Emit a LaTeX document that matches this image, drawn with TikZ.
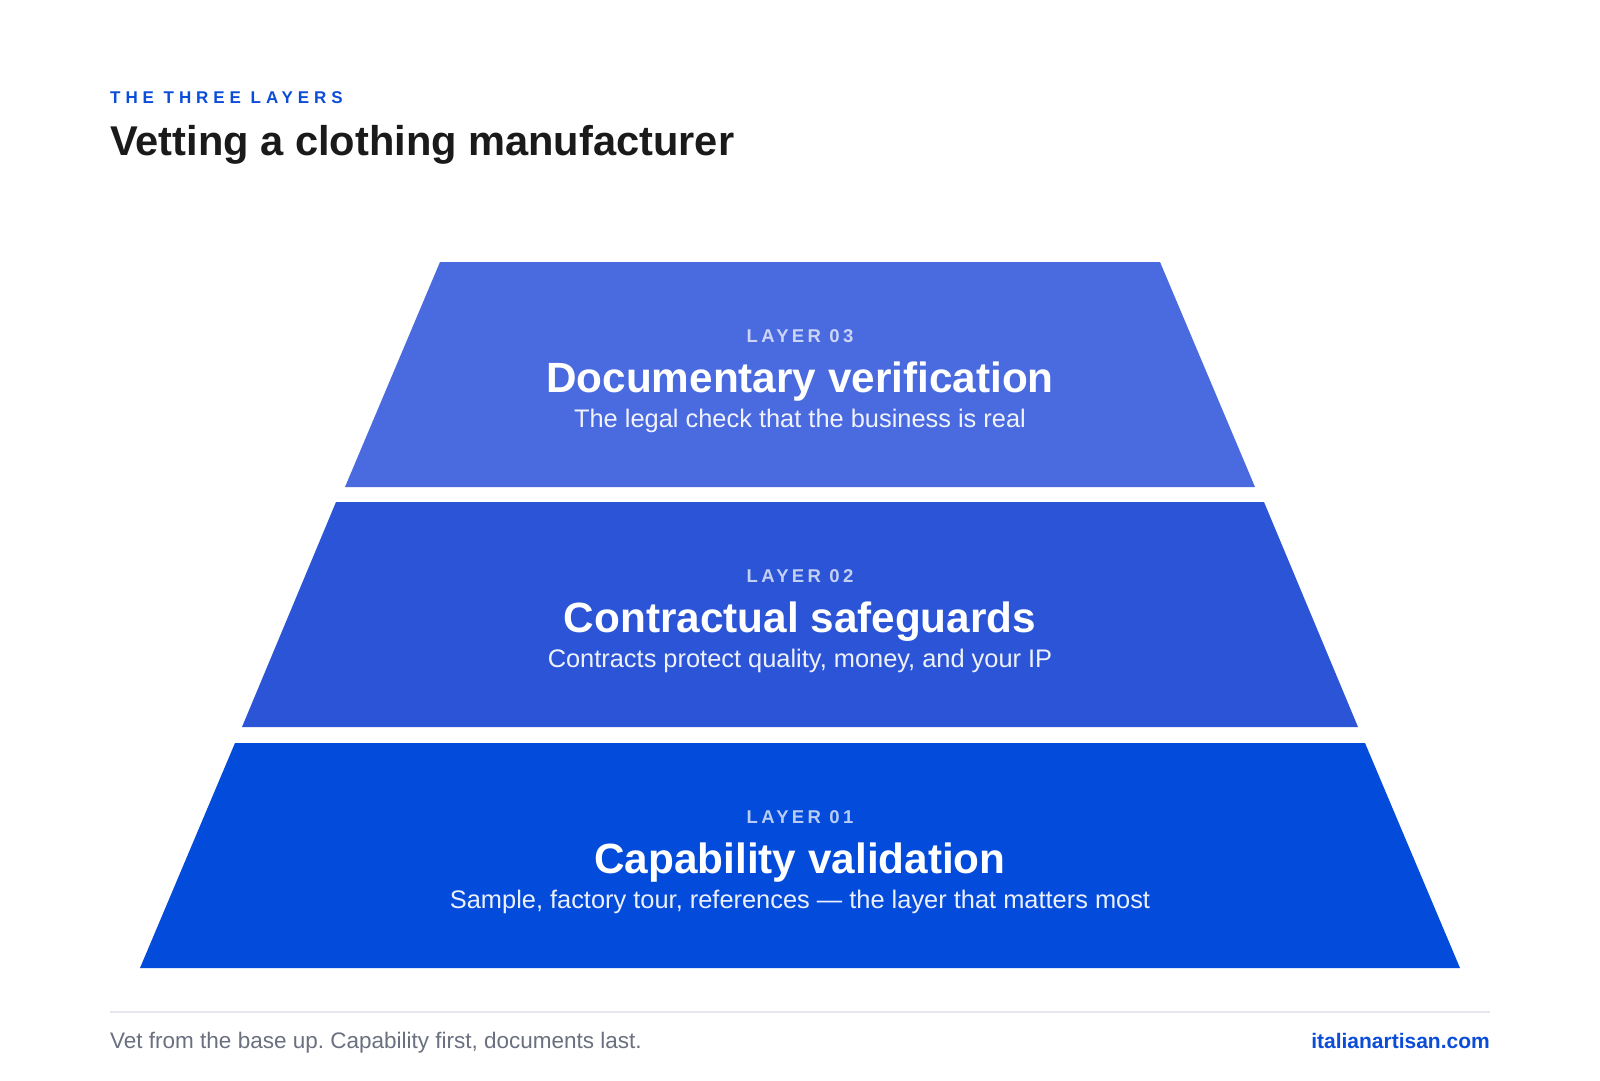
\documentclass[tikz,border=0pt]{standalone}
\usepackage{fontspec}
\setmainfont{Liberation Sans}
\newfontfamily\kickerfont[LetterSpace=29]{Liberation Sans}
\newfontfamily\tagfont[LetterSpace=18]{Liberation Sans}
\usetikzlibrary{positioning}
\frenchspacing

\definecolor{brandblue}{HTML}{0B4CD9}
\definecolor{inkdark}{HTML}{1A1A1A}
\definecolor{mutedgray}{HTML}{6B7080}
\definecolor{rulegray}{HTML}{E5E7EB}
\definecolor{layerthree}{HTML}{4A6ADF}
\definecolor{layertwo}{HTML}{2B55D6}
\definecolor{layerone}{HTML}{034BDB}

\begin{document}
\begin{tikzpicture}[
    x=1pt, y=-1pt,
    kicker/.style={anchor=base west, inner sep=0pt, text=brandblue,
      font=\kickerfont\bfseries\fontsize{17}{20}\selectfont},
    headline/.style={anchor=base west, inner sep=0pt, text=inkdark,
      font=\bfseries\fontsize{41.6}{48}\selectfont},
    layertag/.style={anchor=base, inner sep=0pt, text=white, text opacity=0.72,
      font=\tagfont\bfseries\fontsize{18.5}{22}\selectfont},
    layertitle/.style={anchor=base, inner sep=0pt, text=white,
      font=\bfseries\fontsize{42.3}{50}\selectfont},
    layersub/.style={anchor=base, inner sep=0pt, text=white, text opacity=0.92,
      font=\fontsize{25.4}{30}\selectfont},
    footnote/.style={anchor=base west, inner sep=0pt, text=mutedgray,
      font=\fontsize{22.5}{27}\selectfont},
    brandlink/.style={anchor=base east, inner sep=0pt, text=brandblue,
      font=\bfseries\fontsize{21}{25}\selectfont}
  ]
    \useasboundingbox[fill=white] (0,0) rectangle (1600,1080);

    % header
    \node[kicker] (kick) at (110,103) {THE THREE LAYERS};
    \node[headline] (head) at (110,155) {Vetting a clothing manufacturer};

    % pyramid, top to base
    \fill[layerthree] (440,262) -- (1160,262) -- (1255,487) -- (345,487) -- cycle;
    \fill[layertwo] (336,502) -- (1264,502) -- (1358,727) -- (242,727) -- cycle;
    \fill[layerone] (235,743) -- (1365,743) -- (1460,968) -- (140,968) -- cycle;

    \node[layertag] (tag3) at (800,342) {LAYER 03};
    \node[layertitle, below=50pt of tag3.base, anchor=base] (title3) {Documentary verification};
    \node[layersub, below=35pt of title3.base, anchor=base] (sub3) {The legal check that the business is real};

    \node[layertag] (tag2) at (800,582) {LAYER 02};
    \node[layertitle, below=50pt of tag2.base, anchor=base] (title2) {Contractual safeguards};
    \node[layersub, below=35pt of title2.base, anchor=base] (sub2) {Contracts protect quality, money, and your IP};

    \node[layertag] (tag1) at (800,823) {LAYER 01};
    \node[layertitle, below=50pt of tag1.base, anchor=base] (title1) {Capability validation};
    \node[layersub, below=35pt of title1.base, anchor=base] (sub1) {Sample, factory tour, references — the layer that matters most};

    % footer
    \draw[rulegray, line width=1.2pt] (110,1012) -- (1490,1012);
    \node[footnote] (note) at (110,1048) {Vet from the base up. Capability first, documents last.};
    \node[brandlink] (site) at (1490,1048) {italianartisan.com};
\end{tikzpicture}
\end{document}
